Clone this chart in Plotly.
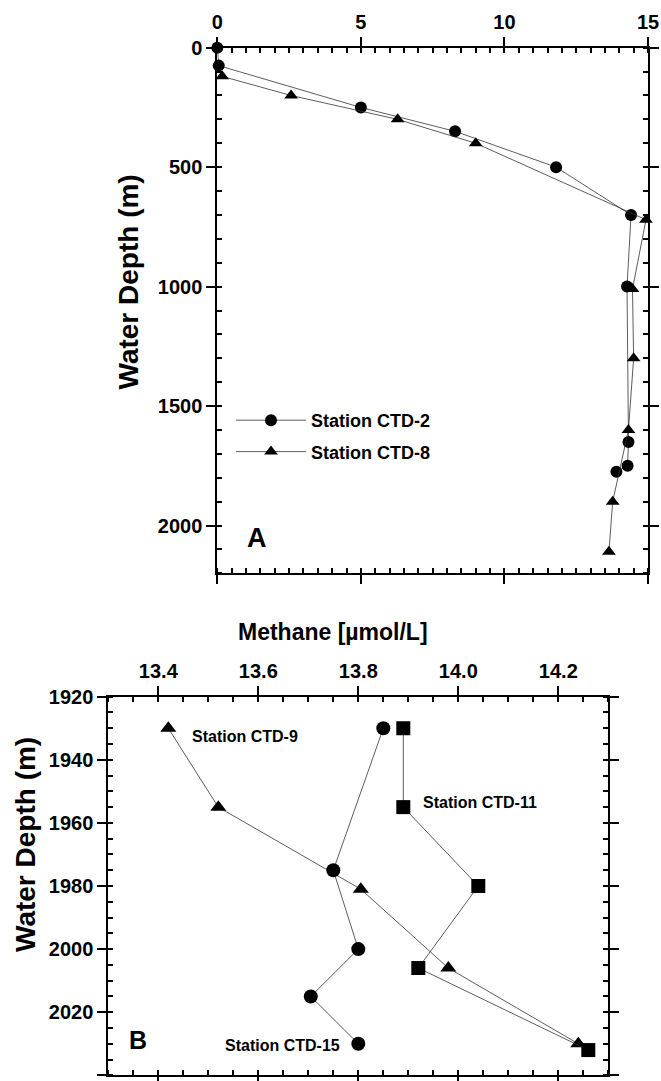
import plotly.graph_objects as go

W, H = 661, 1081

# ---- Panel A data ----
ctd2_methane = [0.0, 0.05, 5.0, 8.28, 11.8, 14.41, 14.27, 14.32, 14.29, 13.9]
ctd2_depth = [0, 75, 250, 350, 500, 700, 1000, 1650, 1750, 1775]
ctd8_methane = [0.17, 2.57, 6.28, 9.0, 14.93, 14.46, 14.5, 14.32, 13.77, 13.64]
ctd8_depth = [120, 200, 300, 400, 720, 1010, 1300, 1600, 1900, 2110]

# ---- Panel B data ----
ctd9_methane = [13.42, 13.52, 13.805, 13.98, 14.24]
ctd9_depth = [1930, 1955, 1981, 2006, 2030]
ctd15_methane = [13.85, 13.75, 13.80, 13.705, 13.80]
ctd15_depth = [1930, 1975, 2000, 2015, 2030]
ctd11_methane = [13.89, 13.89, 14.04, 13.92, 14.26]
ctd11_depth = [1930, 1955, 1980, 2006, 2032]

FONT = "Liberation Sans, Arial, sans-serif"
LINE = dict(color="#333333", width=0.8)

def px_x(p):
    return p / W

def px_y(p):
    return 1 - p / H

fig = go.Figure()

fig.add_trace(go.Scatter(x=ctd2_methane, y=ctd2_depth, mode="lines+markers",
                         name="Station CTD-2", legendgroup="a",
                         line=LINE, marker=dict(symbol="circle", size=12, color="black"),
                         cliponaxis=False, xaxis="x", yaxis="y"))
fig.add_trace(go.Scatter(x=ctd8_methane, y=ctd8_depth, mode="lines+markers",
                         name="Station CTD-8", legendgroup="b",
                         line=LINE, marker=dict(symbol="triangle-up", size=12, color="black"),
                         cliponaxis=False, xaxis="x", yaxis="y"))

fig.add_trace(go.Scatter(x=ctd9_methane, y=ctd9_depth, mode="lines+markers",
                         name="Station CTD-9", showlegend=False,
                         line=LINE, marker=dict(symbol="triangle-up", size=14, color="black"),
                         cliponaxis=False, xaxis="x2", yaxis="y2"))
fig.add_trace(go.Scatter(x=ctd15_methane, y=ctd15_depth, mode="lines+markers",
                         name="Station CTD-15", showlegend=False,
                         line=LINE, marker=dict(symbol="circle", size=14, color="black"),
                         cliponaxis=False, xaxis="x2", yaxis="y2"))
fig.add_trace(go.Scatter(x=ctd11_methane, y=ctd11_depth, mode="lines+markers",
                         name="Station CTD-11", showlegend=False,
                         line=LINE, marker=dict(symbol="square", size=14, color="black"),
                         cliponaxis=False, xaxis="x2", yaxis="y2"))

tickfont = dict(family=FONT, size=20, color="black", weight="bold")

def axis_common(**kw):
    d = dict(showline=True, linewidth=2, linecolor="black", mirror="allticks",
             ticks="outside", ticklen=9, tickwidth=1.5, tickcolor="black",
             showgrid=False, zeroline=False, tickfont=tickfont, automargin=False,
             minor=dict(ticks="inside", ticklen=5, tickwidth=1.5, tickcolor="black", showgrid=False))
    d.update(kw)
    return d

xa = axis_common(domain=[px_x(217.3), px_x(648)], range=[0, 15], side="top",
                 tickmode="array", tickvals=[0, 5, 10, 15], anchor="y")
xa["minor"]["dtick"] = 0.5
ya = axis_common(domain=[px_y(573.3), px_y(47.7)], range=[2200, 0],
                 tickmode="array", tickvals=[0, 500, 1000, 1500, 2000], anchor="x")
ya["minor"]["dtick"] = 100
xb = axis_common(domain=[px_x(108.3), px_x(608.3)], range=[13.3, 14.3], side="top",
                 tickmode="array", tickvals=[13.4, 13.6, 13.8, 14.0, 14.2],
                 ticktext=["13.4", "13.6", "13.8", "14.0", "14.2"], anchor="y2")
xb["minor"]["dtick"] = 0.05
xb["minor"]["tick0"] = 13.3
yb = axis_common(domain=[px_y(1075.3), px_y(696.7)], range=[2040, 1920],
                 tickmode="array", tickvals=[1920, 1940, 1960, 1980, 2000, 2020, 2040], anchor="x2")
yb["minor"]["dtick"] = 5

fig.update_layout(xaxis=xa, yaxis=ya, xaxis2=xb, yaxis2=yb)

ann = []
def txt(text, x, y, size, xref="paper", yref="paper", xanchor="center", yanchor="middle", angle=0):
    ann.append(dict(text=text, x=x, y=y, xref=xref, yref=yref, showarrow=False,
                    xanchor=xanchor, yanchor=yanchor, textangle=angle,
                    font=dict(family=FONT, size=size, color="black", weight="bold")))

txt("Water Depth (m)", px_x(128), px_y(282.5), 28, angle=-90)
txt("Water Depth (m)", px_x(25), px_y(845), 28, angle=-90)
txt("Methane [µmol/L]", px_x(332.5), px_y(632), 23)
txt("A", 0.96, 2051, 27, xref="x", yref="y", xanchor="left")
txt("B", 13.337, 2028.8, 25, xref="x2", yref="y2", xanchor="left")
txt("Station CTD-9", 13.463, 1932.7, 16, xref="x2", yref="y2", xanchor="left")
txt("Station CTD-11", 13.925, 1953.5, 16, xref="x2", yref="y2", xanchor="left")
txt("Station CTD-15", 13.53, 2030.7, 16, xref="x2", yref="y2", xanchor="left")

fig.update_layout(
    width=W, height=H,
    margin=dict(l=0, r=0, t=0, b=0, autoexpand=False),
    paper_bgcolor="white", plot_bgcolor="white",
    annotations=ann,
    showlegend=True,
    legend=dict(x=px_x(231), y=px_y(402), xanchor="left", yanchor="top",
                bgcolor="rgba(0,0,0,0)", tracegroupgap=5, itemwidth=70,
                font=dict(family=FONT, size=18, color="black", weight="bold")),
)

fig.write_html("out.html")
